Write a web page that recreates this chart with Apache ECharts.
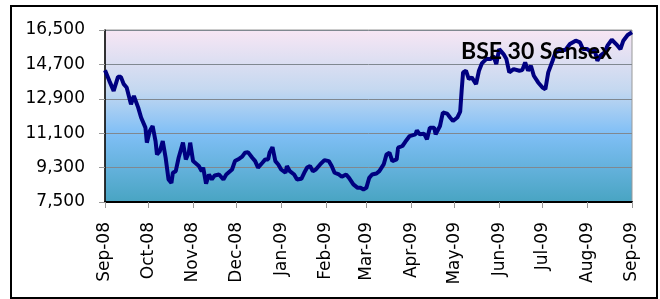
<!DOCTYPE html>
<html>
<head>
<meta charset="utf-8">
<script src="https://cdn.jsdelivr.net/npm/echarts@6/dist/echarts.min.js"></script>
<style>
html,body{margin:0;padding:0;background:#fff;}
#chart{width:660px;height:299px;}
</style>
</head>
<body>
<div id="chart"></div>
<script>
const MONTH_NAMES = ['Jan','Feb','Mar','Apr','May','Jun','Jul','Aug','Sep','Oct','Nov','Dec'];
const TITLE = 'BSE 30 Sensex';
const Y_TICKS = [7500, 9300, 11100, 12900, 14700, 16500];
const X_RANGE = ['2008-09-01', '2009-09-01'];

const dates = [
 '2008-09-01','2008-09-04','2008-09-07','2008-09-10','2008-09-12','2008-09-14','2008-09-16','2008-09-19','2008-09-21','2008-09-22',
 '2008-09-24','2008-09-26','2008-09-29','2008-09-30','2008-10-02','2008-10-04','2008-10-06','2008-10-07','2008-10-09','2008-10-11',
 '2008-10-13','2008-10-15','2008-10-17','2008-10-18','2008-10-20','2008-10-22','2008-10-25','2008-10-27','2008-10-29','2008-10-30',
 '2008-11-01','2008-11-05','2008-11-07','2008-11-08','2008-11-10','2008-11-12','2008-11-14','2008-11-16','2008-11-19','2008-11-22',
 '2008-11-24','2008-11-28','2008-11-30','2008-12-03','2008-12-05','2008-12-07','2008-12-09','2008-12-12','2008-12-14','2008-12-16',
 '2008-12-19','2008-12-21','2008-12-23','2008-12-24','2008-12-26','2008-12-28','2008-12-30','2009-01-01','2009-01-04','2009-01-05',
 '2009-01-07','2009-01-10','2009-01-12','2009-01-15','2009-01-17','2009-01-19','2009-01-21','2009-01-23','2009-01-25','2009-01-28',
 '2009-01-31','2009-02-03','2009-02-05','2009-02-07','2009-02-10','2009-02-12','2009-02-15','2009-02-17','2009-02-20','2009-02-23',
 '2009-02-25','2009-02-27','2009-03-01','2009-03-03','2009-03-05','2009-03-08','2009-03-10','2009-03-13','2009-03-15','2009-03-17',
 '2009-03-19','2009-03-22','2009-03-23','2009-03-26','2009-03-28','2009-03-31','2009-04-04','2009-04-05','2009-04-07','2009-04-10',
 '2009-04-12','2009-04-14','2009-04-17','2009-04-18','2009-04-21','2009-04-23','2009-04-26','2009-04-28','2009-04-30','2009-05-03',
 '2009-05-05','2009-05-06','2009-05-07','2009-05-09','2009-05-11','2009-05-13','2009-05-14','2009-05-16','2009-05-18','2009-05-20',
 '2009-05-23','2009-05-26','2009-05-28','2009-05-30','2009-06-01','2009-06-04','2009-06-06','2009-06-08','2009-06-11','2009-06-15',
 '2009-06-17','2009-06-19','2009-06-21','2009-06-23','2009-06-25','2009-06-28','2009-07-01','2009-07-03','2009-07-05','2009-07-08',
 '2009-07-10','2009-07-13','2009-07-17','2009-07-20','2009-07-24','2009-07-27','2009-07-29','2009-08-01','2009-08-04','2009-08-06',
 '2009-08-08','2009-08-10','2009-08-13','2009-08-15','2009-08-18','2009-08-21','2009-08-24','2009-08-26','2009-08-29','2009-09-01'
];
const sensex = [
 14400,13840,13313,14048,14048,13665,13490,12615,13050,13050,
 12440,11920,11390,10605,11215,11475,10690,9990,10165,10690,
 9815,8680,8500,9030,9115,9815,10605,9730,10080,10605,
 9640,9380,9115,9300,8460,8940,8680,8890,8940,8680,
 8940,9200,9640,9765,9870,10080,10110,9815,9640,9300,
 9555,9730,9730,10080,10375,9640,9465,9200,9030,9380,
 9115,8940,8680,8715,9030,9300,9380,9115,9200,9465,
 9690,9640,9380,9030,8940,8820,8940,8765,8420,8240,
 8240,8155,8240,8765,8940,8990,9115,9465,9990,10080,
 9640,9730,10340,10430,10650,10950,11040,11250,11040,11075,
 10780,11390,11390,11040,11475,12180,12125,11920,11740,11920,
 12230,13315,14280,14370,13930,14020,14020,13665,14370,14750,
 14980,14980,15150,14715,15500,15240,14980,14280,14455,14370,
 14400,14805,14370,14630,14105,13755,13490,13400,14280,14890,
 15330,15415,15470,15765,15940,15850,15500,15500,15330,15500,
 14890,15150,15330,15680,15990,15765,15500,15940,16240,16380
];

const chart = echarts.init(document.getElementById('chart'), null, {renderer:'canvas'});
const labelFont = 'DejaVu Sans';
chart.setOption({
  animation: false,
  backgroundColor: '#ffffff',
  grid: {
    left: 105, right: 28, top: 30, bottom: 97,
    show: true,
    borderColor: '#999999', borderWidth: 1,
    backgroundColor: {
      type: 'linear', x: 0, y: 0, x2: 0, y2: 1,
      colorStops: [
        {offset: 0, color: '#f8e6f4'},
        {offset: 0.35, color: '#c4d8f0'},
        {offset: 0.6, color: '#80bff6'},
        {offset: 1, color: '#48a4c2'}
      ]
    }
  },
  graphic: [
    {type:'rect', shape:{x:11, y:6, width:646, height:292}, style:{fill:'none', stroke:'#000', lineWidth:2}, z:100},
    {type:'text', left: 461, top: 40, z: 100,
     style:{text: TITLE, fill:'#000', font:'bold 23px Lato'}}
  ],
  xAxis: {
    type: 'time',
    min: X_RANGE[0], max: X_RANGE[1],
    splitNumber: 12,
    minInterval: 28*86400000,
    maxInterval: 31*86400000,
    axisLine: {show: true, lineStyle: {color:'#000', width: 2}},
    axisTick: {show: true, length: 6, lineStyle: {color:'#999'}},
    splitLine: {show: false},
    axisLabel: {
      rotate: 90, margin: 20, hideOverlap: false,
      color: '#000', fontFamily: labelFont, fontSize: 17,
      showMinLabel: true, showMaxLabel: true,
      formatter: function (v) {
        const d = new Date(v);
        return MONTH_NAMES[d.getMonth()] + '-' + String(d.getFullYear() % 100).padStart(2,'0');
      }
    }
  },
  yAxis: {
    type: 'value',
    min: Y_TICKS[0], max: Y_TICKS[Y_TICKS.length-1],
    interval: Y_TICKS[1]-Y_TICKS[0],
    axisLine: {show: true, lineStyle: {color:'#000', width: 1.5}},
    axisTick: {show: true, length: 6, lineStyle: {color:'#999'}},
    splitLine: {show: true, lineStyle: {color:'#808890', width: 1}},
    axisLabel: {
      margin: 20, color:'#000', fontFamily: labelFont, fontSize: 17,
      formatter: function (v) { return v.toLocaleString('en-US'); }
    }
  },
  series: [{
    type: 'line',
    data: dates.map((d, i) => [d, sensex[i]]),
    showSymbol: false,
    symbol: 'none',
    lineStyle: {color: '#000080', width: 4},
    z: 10
  }]
});
</script>
</body>
</html>
